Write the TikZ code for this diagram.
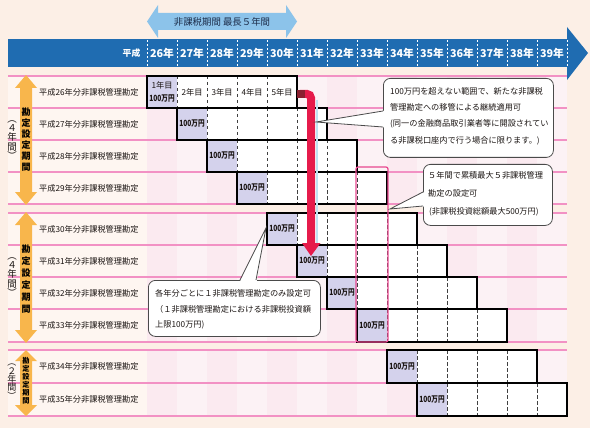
\documentclass[tikz,border=0pt]{standalone}
\usepackage{fontspec}
\usepackage{graphicx}
\setmainfont{Noto Sans CJK JP}
\usetikzlibrary{calc}
\definecolor{bg}{HTML}{FCEFE6}
\definecolor{labbg}{HTML}{FEF6F1}
\definecolor{colA}{HTML}{FBEAF0}
\definecolor{colB}{HTML}{FCF2F5}
\definecolor{barblue}{HTML}{1F6CB1}
\definecolor{lightblue}{HTML}{8CC3EA}
\definecolor{shadowblue}{HTML}{BFE2F2}
\definecolor{pinkline}{HTML}{F291C4}
\definecolor{lav}{HTML}{D4D2EC}
\definecolor{orangearr}{HTML}{F8B64C}
\definecolor{redarr}{HTML}{E61B4B}
\definecolor{maroonsq}{HTML}{8A2030}
\definecolor{magentabox}{HTML}{E8488F}
\definecolor{callborder}{HTML}{4A4A4A}
\definecolor{navy}{HTML}{1B2B48}
\definecolor{txt}{HTML}{1A1412}
\newcommand{\manyen}{\scalebox{0.78}[1]{100万円}}
\begin{document}
\begin{tikzpicture}[x=1pt,y=-1pt,
  every node/.style={inner sep=0pt, text=txt},
  rowlab/.style={anchor=west, font=\fontsize{8.2}{9}\selectfont},
  yearlab/.style={text=white, font=\bfseries\fontsize{10.8}{11}\selectfont},
  cellbox/.style={draw=black, line width=1.3pt},
  celldash/.style={draw=black!75, line width=0.7pt, dash pattern=on 3.5pt off 2.5pt},
  celltxt/.style={font=\fontsize{8.2}{8}\selectfont},
  amt/.style={font=\bfseries\fontsize{8.5}{8}\selectfont},
  calltxt/.style={anchor=west, font=\fontsize{8.2}{9}\selectfont},
  callbox/.style={draw=callborder, line width=0.8pt, fill=white, rounded corners=7pt},
  pointer/.style={draw=callborder, line width=0.8pt},
  vlabin/.style={align=center, text=black},
  vlabout/.style={align=center, text=txt},
]
\useasboundingbox (0,0) rectangle (590,428);
\fill[bg] (0,0) rectangle (590,428);

% table shading per group
\foreach \gt/\gb in {76/204, 213/342, 350/416}{
  \fill[labbg] (8,\gt) rectangle (147,\gb);
  \foreach \c in {0,...,13}{
    \pgfmathsetmacro\cx{147+30*\c}
    \pgfmathparse{mod(\c,2)==0 ? 1 : 0}
    \ifnum\pgfmathresult=1
      \fill[colA] (\cx,\gt) rectangle ++(30,\gb-\gt);
    \else
      \fill[colB] (\cx,\gt) rectangle ++(30,\gb-\gt);
    \fi
  }
}
% pink row lines
\foreach \ly in {76,108,140,172,204,213,245,277,309,342,350,383,416}{
  \draw[pinkline, line width=1.3pt] (8,\ly) -- (567,\ly);
}

% header bar
\fill[barblue] (8,39) rectangle (568,67);
\fill[barblue] (567,27) -- (588,53) -- (567,80) -- cycle;
\foreach \k in {0,...,14}{
  \draw[white, line width=0.7pt, dash pattern=on 2.5pt off 1.5pt] (147+30*\k,40) -- (147+30*\k,66);
}
\node[yearlab, font=\bfseries\fontsize{8.8}{9}\selectfont] (heisei) at (131.5,53) {平成};
\foreach \k in {0,...,13}{
  \pgfmathtruncatemacro\yr{26+\k}
  \node[yearlab] (yr\k) at (162+30*\k,53) {\yr 年};
}

% top double arrow
\fill[lightblue] (147,21.5) -- (158,5) -- (158,13) -- (286,13) -- (286,5) -- (297,21.5)
  -- (286,38) -- (286,30) -- (158,30) -- (158,38) -- cycle;
\node[text=navy, font=\fontsize{9.4}{10}\selectfont] (period) at (222,22) {非課税期間\ 最長５年間};

% account rows
\foreach \i/\t/\b/\yr in {0/76/108/26, 1/108/140/27, 2/140/172/28, 3/172/204/29,
  4/213/245/30, 5/245/277/31, 6/277/309/32, 7/309/342/33, 8/350/383/34, 9/383/416/35}{
  \pgfmathsetmacro\xa{147+30*\i}
  \pgfmathsetmacro\xb{\xa+150}
  \pgfmathsetmacro\ym{(\t+\b)/2}
  \fill[lav] (\xa,\t) rectangle (\xa+30,\b);
  \fill[white] (\xa+30,\t) rectangle (\xb,\b);
  \foreach \k in {1,...,4}{
    \draw[celldash] (\xa+30*\k,\t) -- (\xa+30*\k,\b);
  }
  \draw[cellbox] (\xa,\t) rectangle (\xb,\b);
  \node[rowlab] (lab\i) at (39,\ym) {平成\yr 年分非課税管理勘定};
  \ifnum\i>0
    \node[amt] (amt\i) at (\xa+15,\ym) {\manyen};
  \fi
}
\node[celltxt] (y1) at (162,85) {1年目};
\node[amt] (amt0) at (162,98.5) {\manyen};
\node[celltxt] (y2) at (192,92) {2年目};
\node[celltxt] (y3) at (222,92) {3年目};
\node[celltxt] (y4) at (252,92) {4年目};
\node[celltxt] (y5) at (282,92) {5年目};

% magenta frame around 33 column
\draw[magentabox, line width=1.2pt, rounded corners=2pt] (356,167) rectangle (388,342);

% red transfer arrow
\draw[shadowblue, line width=2.5pt] (317,100) -- (317,243);
\draw[redarr, line width=8pt, rounded corners=4pt] (300,94) -- (311,94) -- (311,244);
\fill[redarr] (302,243) -- (320.5,243) -- (311,256) -- cycle;
\fill[maroonsq] (297,90) rectangle (305,98);

% callout 1
\node[callbox, minimum width=170pt, minimum height=79pt, anchor=north west] (call1) at (383,78) {};
\coordinate (p1a) at (383,111);
\coordinate (p1t) at (316,122);
\coordinate (p1b) at (383,127);
\fill[white] (385.5,110.5) -- (p1t) -- (385.5,127.5) -- cycle;
\draw[pointer] (p1a) -- (p1t) -- (p1b);
\node[calltxt] (c1a) at (390,91) {100万円を超えない範囲で、新たな非課税};
\node[calltxt] (c1b) at (390,107.5) {管理勘定への移管による継続適用可};
\node[calltxt] (c1c) at (390,124) {(同一の金融商品取引業者等に開設されてい};
\node[calltxt] (c1d) at (390,140.5) {る非課税口座内で行う場合に限ります。)};

% callout 2
\node[callbox, minimum width=129pt, minimum height=61pt, anchor=north west] (call2) at (423,164) {};
\coordinate (p2a) at (423,192);
\coordinate (p2t) at (390,209);
\coordinate (p2b) at (423,206);
\fill[white] (425.5,191.5) -- (p2t) -- (425.5,206.5) -- cycle;
\draw[pointer] (p2a) -- (p2t) -- (p2b);
\node[calltxt] (c2a) at (428,175) {５年間で累積最大５非課税管理};
\node[calltxt] (c2b) at (428,193.5) {勘定の設定可};
\node[calltxt] (c2c) at (429,212) {(非課税投資総額最大500万円)};

% callout 3
\node[callbox, minimum width=172pt, minimum height=56pt, anchor=north west] (call3) at (148,280) {};
\coordinate (p3a) at (240,280);
\coordinate (p3t) at (266,228);
\coordinate (p3b) at (256,280);
\fill[white] (239.5,282.5) -- (p3t) -- (256.5,282.5) -- cycle;
\draw[pointer] (p3a) -- (p3t) -- (p3b);
\node[calltxt] (c3a) at (155,293) {各年分ごとに１非課税管理勘定のみ設定可};
\node[calltxt] (c3b) at (155,309) {（１非課税管理勘定における非課税投資額};
\node[calltxt] (c3c) at (155,325) {上限100万円)};

% left orange double arrows with labels
\foreach \n/\T/\B/\hl in {1/75/205/13, 2/212/343/13, 3/350/416/11}{
  \fill[orangearr] (26,\T) -- (37,\T+\hl) -- (32,\T+\hl) -- (32,\B-\hl) -- (37,\B-\hl)
    -- (26,\B) -- (15,\B-\hl) -- (20,\B-\hl) -- (20,\T+\hl) -- (15,\T+\hl) -- cycle;
}
\node[vlabin, font=\bfseries\fontsize{9}{11}\selectfont] (g1in) at (26,140) {勘\\定\\設\\定\\期\\間};
\node[vlabin, font=\bfseries\fontsize{9}{12}\selectfont] (g2in) at (26,279) {勘\\定\\設\\定\\期\\間};
\node[vlabin, font=\bfseries\fontsize{7.2}{8}\selectfont] (g3in) at (26,381) {勘\\定\\設\\定\\期\\間};
\node[vlabout, font=\fontsize{9.5}{9.3}\selectfont] (g1out) at (12,140) {︵\\４\\年\\間\\︶};
\node[vlabout, font=\fontsize{9.5}{9.3}\selectfont] (g2out) at (12,277) {︵\\４\\年\\間\\︶};
\node[vlabout, font=\fontsize{9}{8.2}\selectfont] (g3out) at (12,382) {︵\\２\\年\\間\\︶};
\end{tikzpicture}
\end{document}
